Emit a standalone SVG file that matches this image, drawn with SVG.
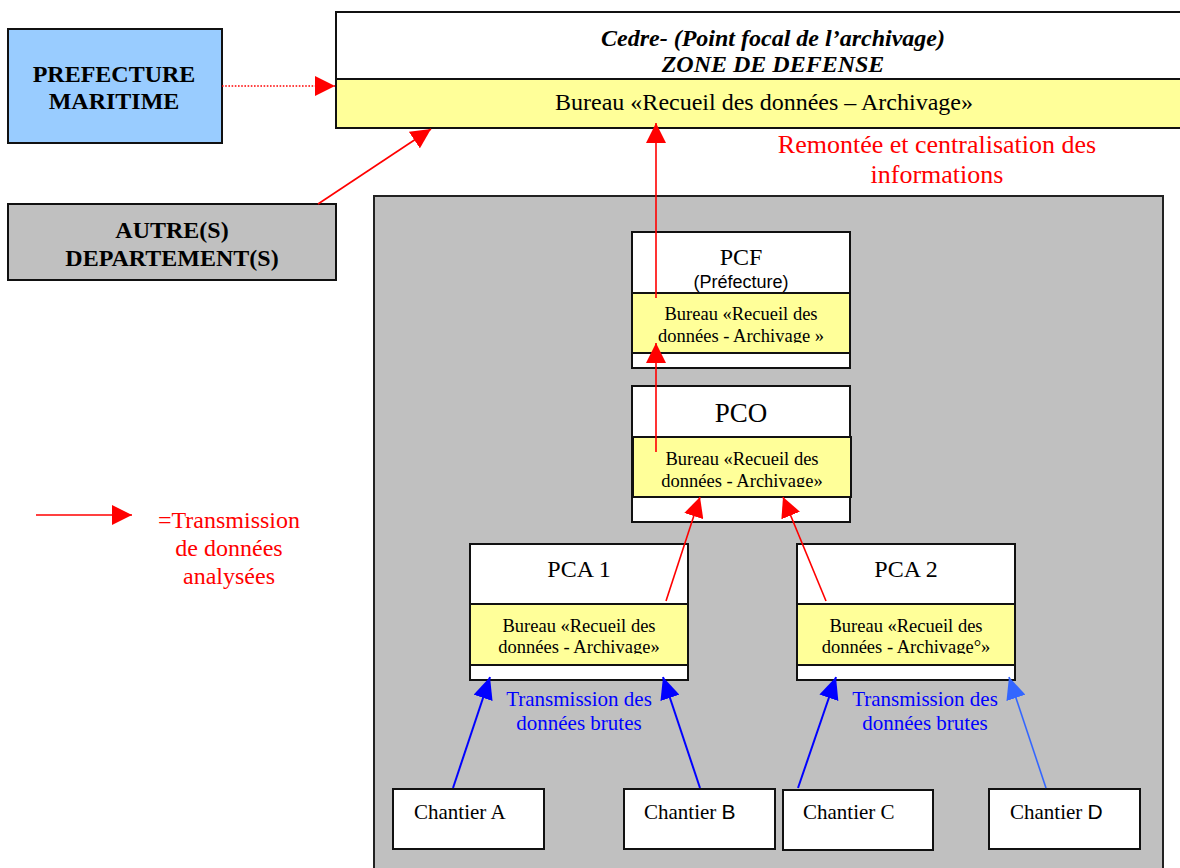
<svg xmlns="http://www.w3.org/2000/svg" width="1180" height="868" viewBox="0 0 1180 868">
  <defs>
    <style>
      .box { stroke: #111; stroke-width: 2; }
      .white { fill: #fff; }
      .yellow { fill: #ffff99; }
      .grey { fill: #c0c0c0; }
      .blue { fill: #99ccff; }
      .serif { font-family: "Liberation Serif", "Times New Roman", serif; fill: #000; }
      .sans { font-family: "Liberation Sans", Arial, sans-serif; }
      .bold { font-weight: bold; font-size: 24px; }
      .bureau { font-size: 18.5px; }
      .red-text { fill: #ff0000; }
      .blue-text { fill: #0000ff; font-size: 21px; }
      .red-line { stroke: #ff0000; stroke-width: 1.6; fill: none; }
      .blue-line { stroke: #0000ff; stroke-width: 2; fill: none; }
      .blue-light-line { stroke: #3366ff; stroke-width: 1.6; fill: none; }
    </style>
    <marker id="head-red" markerUnits="userSpaceOnUse" markerWidth="20" markerHeight="20" refX="20" refY="10" orient="auto">
      <path d="M0,0 L20,10 L0,20 z" fill="#ff0000"/>
    </marker>
    <marker id="head-blue" markerUnits="userSpaceOnUse" markerWidth="22" markerHeight="20" refX="22" refY="10" orient="auto">
      <path d="M0,0 L22,10 L0,20 z" fill="#0000ff"/>
    </marker>
    <marker id="head-blue-light" markerUnits="userSpaceOnUse" markerWidth="22" markerHeight="20" refX="22" refY="10" orient="auto">
      <path d="M0,0 L22,10 L0,20 z" fill="#3366ff"/>
    </marker>
    <!-- text areas of the yellow bands (second line is cut at its baseline) -->
    <clipPath id="clip-pcf"><rect x="632" y="293" width="218" height="50"/></clipPath>
    <clipPath id="clip-pco"><rect x="632" y="437" width="218" height="50"/></clipPath>
    <clipPath id="clip-pca1"><rect x="470" y="604" width="218" height="50"/></clipPath>
    <clipPath id="clip-pca2"><rect x="797" y="604" width="218" height="50"/></clipPath>
  </defs>

  <rect width="1180" height="868" fill="#fff"/>

  <!-- operational zone background -->
  <g id="zone">
    <rect x="374" y="196" width="789" height="690" class="grey" stroke="#222" stroke-width="2"/>
  </g>

  <g id="prefecture-maritime">
    <rect x="8" y="29" width="214" height="114" class="blue box" stroke-width="1.5"/>
    <text x="114" y="82" text-anchor="middle" class="serif bold">PREFECTURE</text>
    <text x="114" y="109" text-anchor="middle" class="serif bold">MARITIME</text>
  </g>

  <g id="autres-departements">
    <rect x="8" y="204" width="328" height="76" class="grey box"/>
    <text x="172" y="238" text-anchor="middle" class="serif bold">AUTRE(S)</text>
    <text x="172" y="266" text-anchor="middle" class="serif bold">DEPARTEMENT(S)</text>
  </g>

  <g id="cedre">
    <rect x="336" y="12" width="860" height="116" class="white box"/>
    <rect x="336" y="79" width="860" height="49" class="yellow box"/>
    <text x="773" y="46" text-anchor="middle" class="serif" font-size="24" font-weight="bold" font-style="italic">Cedre- (Point focal de l’archivage)</text>
    <text x="773" y="72" text-anchor="middle" class="serif" font-size="24" font-weight="bold" font-style="italic">ZONE DE DEFENSE</text>
    <text x="764" y="110" text-anchor="middle" class="serif" font-size="24">Bureau «Recueil des données – Archivage»</text>
  </g>

  <g id="label-remontee">
    <text x="937" y="153" text-anchor="middle" class="serif red-text" font-size="26">Remontée et centralisation des</text>
    <text x="937" y="183" text-anchor="middle" class="serif red-text" font-size="26">informations</text>
  </g>

  <g id="pcf">
    <rect x="632" y="232" width="218" height="136" class="white box"/>
    <rect x="632" y="293" width="218" height="60" class="yellow box"/>
    <text x="741" y="265" text-anchor="middle" class="serif" font-size="24">PCF</text>
    <text x="741" y="288" text-anchor="middle" class="sans" font-size="18">(Préfecture)</text>
    <g clip-path="url(#clip-pcf)">
      <text x="741" y="320" text-anchor="middle" class="serif bureau">Bureau «Recueil des</text>
      <text x="741" y="342" text-anchor="middle" class="serif bureau">données - Archivage »</text>
    </g>
  </g>

  <g id="pco">
    <rect x="632" y="386" width="218" height="136" class="white box"/>
    <rect x="633" y="437" width="218" height="60" class="yellow box"/>
    <text x="741" y="422" text-anchor="middle" class="serif" font-size="27">PCO</text>
    <g clip-path="url(#clip-pco)">
      <text x="742" y="465" text-anchor="middle" class="serif bureau">Bureau «Recueil des</text>
      <text x="742" y="487" text-anchor="middle" class="serif bureau">données - Archivage»</text>
    </g>
  </g>

  <g id="pca1">
    <rect x="470" y="544" width="218" height="136" class="white box"/>
    <rect x="470" y="604" width="218" height="61" class="yellow box"/>
    <text x="579" y="577" text-anchor="middle" class="serif" font-size="24">PCA 1</text>
    <g clip-path="url(#clip-pca1)">
      <text x="579" y="632" text-anchor="middle" class="serif bureau">Bureau «Recueil des</text>
      <text x="579" y="653" text-anchor="middle" class="serif bureau">données - Archivage»</text>
    </g>
  </g>

  <g id="pca2">
    <rect x="797" y="544" width="218" height="136" class="white box"/>
    <rect x="797" y="604" width="218" height="61" class="yellow box"/>
    <text x="906" y="577" text-anchor="middle" class="serif" font-size="24">PCA 2</text>
    <g clip-path="url(#clip-pca2)">
      <text x="906" y="632" text-anchor="middle" class="serif bureau">Bureau «Recueil des</text>
      <text x="906" y="653" text-anchor="middle" class="serif bureau">données - Archivage°»</text>
    </g>
  </g>

  <g id="chantier-a">
    <rect x="393" y="789" width="151" height="60" class="white box"/>
    <text x="414" y="819" class="serif" font-size="21">Chantier A</text>
  </g>
  <g id="chantier-b">
    <rect x="624" y="789" width="151" height="60" class="white box"/>
    <text x="644" y="819" class="serif" font-size="21">Chantier <tspan class="sans" font-size="21">B</tspan></text>
  </g>
  <g id="chantier-c">
    <rect x="783" y="790" width="150" height="60" class="white box"/>
    <text x="803" y="819" class="serif" font-size="21">Chantier C</text>
  </g>
  <g id="chantier-d">
    <rect x="989" y="789" width="151" height="60" class="white box"/>
    <text x="1010" y="819" class="serif" font-size="21">Chantier <tspan class="sans" font-size="21">D</tspan></text>
  </g>

  <g id="label-brutes-1">
    <text x="579" y="706" text-anchor="middle" class="serif blue-text">Transmission des</text>
    <text x="579" y="730" text-anchor="middle" class="serif blue-text">données brutes</text>
  </g>
  <g id="label-brutes-2">
    <text x="925" y="706" text-anchor="middle" class="serif blue-text">Transmission des</text>
    <text x="925" y="730" text-anchor="middle" class="serif blue-text">données brutes</text>
  </g>

  <g id="legend">
    <line x1="36" y1="515" x2="132" y2="515" class="red-line" marker-end="url(#head-red)"/>
    <text x="229" y="528" text-anchor="middle" class="serif red-text" font-size="24">=Transmission</text>
    <text x="229" y="556" text-anchor="middle" class="serif red-text" font-size="24">de données</text>
    <text x="229" y="584" text-anchor="middle" class="serif red-text" font-size="24">analysées</text>
  </g>

  <g id="connectors">
    <line x1="222" y1="86" x2="335" y2="86" class="red-line" stroke-dasharray="1.6 1.6" marker-end="url(#head-red)"/>
    <line x1="318" y1="204" x2="431" y2="129" class="red-line" marker-end="url(#head-red)"/>
    <line x1="656" y1="298" x2="656" y2="123" class="red-line" marker-end="url(#head-red)"/>
    <line x1="656" y1="452" x2="656" y2="343" class="red-line" marker-end="url(#head-red)"/>
    <line x1="666" y1="601" x2="700" y2="497" class="red-line" marker-end="url(#head-red)"/>
    <line x1="826" y1="601" x2="783" y2="497" class="red-line" marker-end="url(#head-red)"/>
    <line x1="453" y1="788" x2="490" y2="677" class="blue-line" marker-end="url(#head-blue)"/>
    <line x1="700" y1="788" x2="663" y2="677" class="blue-line" marker-end="url(#head-blue)"/>
    <line x1="798" y1="788" x2="836" y2="677" class="blue-line" marker-end="url(#head-blue)"/>
    <line x1="1046" y1="788" x2="1009" y2="677" class="blue-light-line" marker-end="url(#head-blue-light)"/>
  </g>
</svg>
